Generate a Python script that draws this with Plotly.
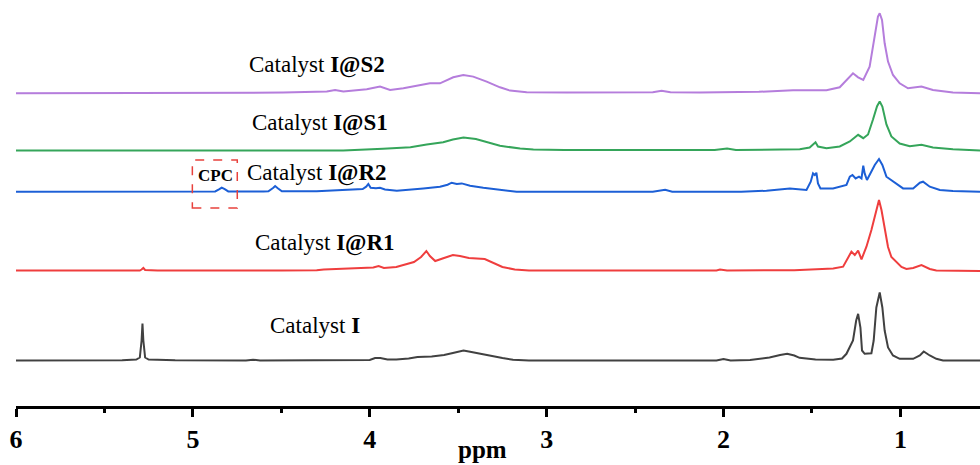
import plotly.graph_objects as go

# ---------------- data (ppm, intensity above each baseline) ----------------
names = ["Catalyst I", "Catalyst I@R1", "Catalyst I@R2", "Catalyst I@S1", "Catalyst I@S2"]
colors = ["#414141", "#ef3e3e", "#1c5fd6", "#35a55a", "#b57ddc"]
offsets = [45.5, 135.0, 214.3, 255.5, 312.7]

ppm_I = [6.0, 5.6, 5.4, 5.32, 5.3, 5.29, 5.285, 5.28, 5.27, 5.25, 5.1, 4.7, 4.66, 4.62, 4.2, 4.0, 3.97, 3.94,
         3.9, 3.85, 3.78, 3.73, 3.65, 3.58, 3.53, 3.5, 3.47, 3.44, 3.4, 3.33, 3.25, 3.19, 3.1, 2.5, 2.04, 2.0,
         1.96, 1.85, 1.74, 1.68, 1.64, 1.6, 1.57, 1.48, 1.38, 1.33, 1.305, 1.268, 1.25, 1.239, 1.226, 1.217,
         1.202, 1.164, 1.151, 1.136, 1.117, 1.102, 1.089, 1.07, 1.042, 1.004, 0.928, 0.89, 0.868, 0.834,
         0.797, 0.759, 0.55]
int_I = [0, 0, 0.3, 1, 3, 20, 37, 20, 3, 1, 0.3, 0, 0.8, 0, 0, 0.5, 2.5, 2.5,
         1, 1, 2, 3.5, 4, 5.5, 7.5, 9, 10, 9, 7.5, 5, 2.5, 0.7, 0, 0, 0, 1.5,
         0, 0.5, 3, 5.5, 6.7, 5, 2.7, 1, 0.7, 2, 6.7, 20, 40, 46.7, 33, 10,
         6.7, 7.3, 20, 53, 68, 53, 30, 13, 5, 1.7, 1.7, 5, 9, 5,
         1.7, 0, 0]

ppm_R1 = [6.0, 5.6, 5.3, 5.29, 5.28, 5.27, 5.2, 4.5, 4.3, 4.26, 4.15, 4.04, 3.98, 3.95, 3.92, 3.85, 3.81,
          3.75, 3.71, 3.68, 3.66, 3.63, 3.58, 3.53, 3.49, 3.44, 3.35, 3.3, 3.25, 3.18, 3.1, 2.5, 2.04, 2.02,
          1.98, 1.6, 1.45, 1.38, 1.324, 1.3, 1.277, 1.258, 1.239, 1.22, 1.192, 1.164, 1.145, 1.127, 1.121,
          1.107, 1.089, 1.07, 1.051, 1.023, 0.994, 0.966, 0.928, 0.881, 0.834, 0.797, 0.55]
int_R1 = [0.5, 0.5, 0.5, 1.5, 3, 1, 0.5, 0.5, 0.7, 1.5, 2, 3, 3.5, 5, 3, 4, 6,
          9, 14, 20, 15, 10, 13, 16, 15, 13, 12, 8, 4, 1.5, 0.5, 0.5, 0.5, 1.5,
          0.5, 0.8, 1.5, 2.5, 4.3, 12, 19.3, 16, 20.3, 11.7, 24.3, 41, 54, 69, 71,
          61, 41, 24, 14, 9, 4, 2, 3, 6, 2, 0.5, 0]

ppm_R2 = [6.0, 5.2, 4.95, 4.874, 4.85, 4.837, 4.82, 4.8, 4.6, 4.573, 4.545, 4.535, 4.52, 4.497, 4.3, 4.215,
          4.111, 4.04, 4.02, 4.008, 3.995, 3.965, 3.942, 3.914, 3.847, 3.76, 3.697, 3.603, 3.56, 3.537, 3.508,
          3.48, 3.433, 3.358, 3.264, 3.17, 2.4, 2.33, 2.29, 1.9, 1.757, 1.625, 1.531, 1.507, 1.494, 1.484,
          1.475, 1.466, 1.452, 1.381, 1.305, 1.286, 1.271, 1.253, 1.234, 1.22, 1.21, 1.202, 1.189, 1.174,
          1.145, 1.121, 1.102, 1.079, 1.051, 1.023, 0.985, 0.928, 0.89, 0.872, 0.834, 0.777, 0.703, 0.55]
int_R2 = [0, 0, 0, 0.3, 2.5, 4, 2.5, 0.3, 0.3, 0.5, 4, 5.7, 3.5, 0.5, 0.5, 1,
          1.7, 2.7, 5, 7.7, 4, 3.5, 4, 2.3, 1, 2, 3.3, 5, 7, 9, 7.7,
          8.3, 6, 4, 1.7, 0, 0, 2, 0, 0, 1, 3.3, 1.7, 10, 18.3, 16.7,
          19, 8.3, 3.3, 3.3, 6.7, 15, 16.7, 13.3, 15, 13.3, 26, 18.3, 11.7, 16.7,
          26.7, 32.7, 26.7, 15, 11.7, 8.3, 3.3, 3.3, 9, 10, 5, 1.7, 0.7, 0]

ppm_S1 = [6.0, 4.2, 4.15, 3.925, 3.77, 3.678, 3.63, 3.585, 3.53, 3.47, 3.4, 3.3, 3.264, 3.15, 3.075, 2.9,
          2.05, 1.98, 1.93, 1.569, 1.513, 1.48, 1.466, 1.418, 1.343, 1.286, 1.239, 1.21, 1.183, 1.155, 1.132,
          1.117, 1.102, 1.079, 1.051, 1.004, 0.947, 0.881, 0.816, 0.703, 0.55]
int_S1 = [0, 0, 0, 1.7, 3.3, 6, 7, 8.3, 11, 13, 11.5, 7, 4.7, 2, 1, 0.5,
          0.5, 2, 0.5, 1.3, 3, 8.3, 4, 2.3, 4, 9, 15.7, 12.3, 16, 31, 44.3,
          49, 44, 26, 14, 7, 4.3, 5.7, 3, 1.3, 0]

ppm_S2 = [6.0, 5.0, 4.49, 4.243, 4.196, 4.149, 4.017, 3.942, 3.885, 3.81, 3.716, 3.66, 3.603, 3.528, 3.471,
          3.415, 3.339, 3.264, 3.207, 3.113, 2.887, 2.5, 2.4, 2.35, 2.3, 2.134, 1.8, 1.607, 1.418, 1.343,
          1.296, 1.268, 1.239, 1.21, 1.174, 1.145, 1.127, 1.117, 1.104, 1.089, 1.07, 1.042, 1.004, 0.957,
          0.881, 0.816, 0.703, 0.55]
int_S2 = [0, 0, 0.7, 1.7, 3.3, 1.7, 4, 6.7, 3.3, 5, 8.3, 10, 10, 16, 18.3,
          16.7, 11.7, 6, 2.7, 1, 0.7, 0.7, 1, 2.5, 1, 0.7, 1.5, 3, 3, 6,
          15, 20, 16, 13.3, 26.7, 56.7, 76.7, 80, 73.3, 50, 31.7, 18.3, 10, 5,
          6.7, 3.3, 0.7, 0]

ppm_series = [ppm_I, ppm_R1, ppm_R2, ppm_S1, ppm_S2]
int_series = [int_I, int_R1, int_R2, int_S1, int_S2]

x_ticks = [6, 5, 4, 3, 2, 1]

# ---------------- figure ----------------
fig = go.Figure()
for name, col, off, xs, ys in zip(names, colors, offsets, ppm_series, int_series):
    fig.add_trace(go.Scatter(
        x=xs, y=[off + v for v in ys], mode="lines", name=name,
        line=dict(color=col, width=2), hoverinfo="skip", showlegend=False))

SERIF = "Liberation Serif"

labels = [
    (4.31, 81, "Catalyst <b>I</b>"),
    (4.255, 163, "Catalyst <b>I@R1</b>"),
    (4.30, 233, "Catalyst <b>I@R2</b>"),
    (4.284, 283, "Catalyst <b>I@S1</b>"),
    (4.298, 341, "Catalyst <b>I@S2</b>"),
]
for lx, ly, txt in labels:
    fig.add_annotation(x=lx, y=ly, text=txt, showarrow=False, xanchor="center", yanchor="middle",
                       font=dict(family=SERIF, size=23, color="black"))

fig.add_annotation(x=4.874, y=231, text="<b>CPC</b>", showarrow=False, xanchor="center", yanchor="middle",
                   font=dict(family=SERIF, size=17, color="black"))
fig.add_shape(type="rect", x0=5.003, x1=4.749, y0=198, y1=246, xref="x", yref="y",
              line=dict(color="#e8413c", width=1.5, dash="dash"), fillcolor="rgba(0,0,0,0)")

fig.add_annotation(xref="paper", yref="paper", x=0.4844, y=-0.108, text="<b>ppm</b>", showarrow=False,
                   xanchor="center", yanchor="middle", font=dict(family=SERIF, size=25, color="black"))

fig.update_layout(
    width=980, height=465,
    margin=dict(l=16, r=0, t=0, b=59),
    paper_bgcolor="white", plot_bgcolor="white",
    xaxis=dict(range=[6.0, 0.55], tickmode="array", tickvals=x_ticks, ticktext=[str(t) for t in x_ticks],
               showgrid=False, zeroline=False, showline=True, linecolor="black", linewidth=3,
               ticks="outside", ticklen=8, tickwidth=3, tickcolor="black",
               tickfont=dict(family=SERIF, size=26, color="black", weight="bold"),
               minor=dict(dtick=0.5, tick0=0, ticks="outside", ticklen=4, tickwidth=2.5, tickcolor="black",
                          showgrid=False)),
    yaxis=dict(range=[0, 406], visible=False, showgrid=False, zeroline=False),
)

fig.write_html("out.html", config={"displayModeBar": False},
               post_script="document.body.style.margin='0';document.body.style.overflow='hidden';")
